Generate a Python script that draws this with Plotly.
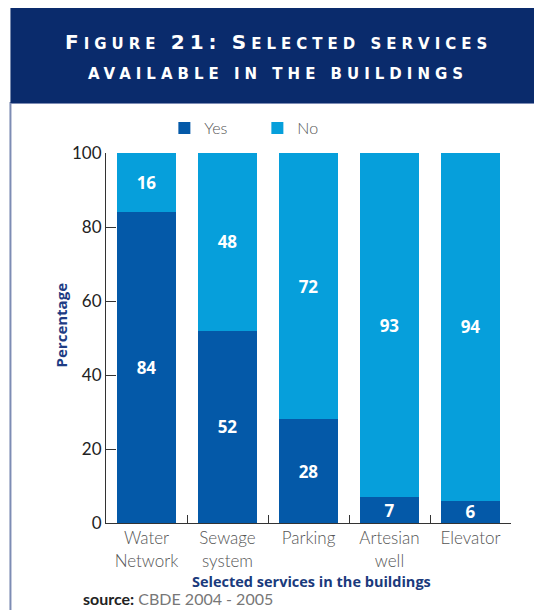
import plotly.graph_objects as go

categories = ["Water<br>Network", "Sewage<br>system", "Parking", "Artesian<br>well", "Elevator"]
yes_values = [84, 52, 28, 7, 6]
no_values = [16, 48, 72, 93, 94]
y_ticks = [0, 20, 40, 60, 80, 100]

YES_C = "#0459a8"
NO_C = "#069fdb"
NAVY = "#0a2b6c"

OFF = 8  # page body margin
W, H = 542 - OFF, 610 - OFF
# plot area in reference (window) pixels
X0, X1, Y0, Y1 = 105.6, 510.8, 153, 523
L, R, T, B = X0 - OFF, W - (X1 - OFF), Y0 - OFF, H - (Y1 - OFF)
PW = X1 - X0
PH = Y1 - Y0

def px(x):
    return (x - X0) / PW

def py(y):
    return (Y1 - y) / PH

fig = go.Figure()
for name, vals, col in [("Yes", yes_values, YES_C), ("No", no_values, NO_C)]:
    fig.add_trace(go.Bar(
        name=name, x=categories, y=vals, marker=dict(color=col, line=dict(width=0)),
        text=[str(v) for v in vals], textposition="inside", insidetextanchor="middle",
        textangle=0, constraintext="none",
        textfont=dict(family="Open Sans", size=17, color="white", weight="bold"),
    ))

thin = "Lato"

fig.update_layout(
    width=W, height=H,
    margin=dict(l=L, r=R, t=T, b=B, autoexpand=False),
    barmode="stack", bargap=0.27,
    paper_bgcolor="white", plot_bgcolor="white",
    uniformtext=dict(minsize=17, mode="show"),
    showlegend=True,
    legend=dict(orientation="h", x=px(164), xanchor="left", y=py(128), yanchor="middle",
                font=dict(family=thin, size=16, color="#555555", weight=300),
                entrywidth=48, bgcolor="rgba(0,0,0,0)", traceorder="normal"),
    xaxis=dict(
        showline=True, linecolor="#333333", linewidth=1,
        ticks="inside", tickson="boundaries", ticklen=8, tickcolor="#333333",
        tickfont=dict(family=thin, size=17, color="#555555", weight=300),
        showgrid=False, zeroline=False,
    ),
    yaxis=dict(
        range=[0, 100], tickvals=y_ticks,
        showline=True, linecolor="#333333", linewidth=1,
        ticks="inside", ticklen=10, tickcolor="#333333",
        tickfont=dict(family="Lato", size=17, color="#222222"),
        showgrid=False, zeroline=False,
    ),
)

shapes = [
    dict(type="rect", xref="paper", yref="paper", x0=px(10), x1=px(539), y0=py(640), y1=py(103),
         line=dict(color="#7d8cb4", width=2), fillcolor="rgba(0,0,0,0)", layer="below"),
    dict(type="rect", xref="paper", yref="paper", x0=px(10), x1=px(560), y0=py(103), y1=py(5),
         line=dict(width=0), fillcolor=NAVY, layer="above"),
]
fig.update_layout(shapes=shapes)

big = "<span style='font-size:20px'>"
title1 = ("<span style='letter-spacing:5px'>" + big + "F</span>IGURE " + big + "21:</span> "
          + big + "S</span>ELECTED SERVICES</span>")
title2 = "<span style='letter-spacing:5px'>AVAILABLE IN THE BUILDINGS</span>"

annotations = [
    dict(text=title1, x=px(278), y=py(42), xref="paper", yref="paper", showarrow=False,
         xanchor="center", yanchor="middle",
         font=dict(family="DejaVu Sans", size=15, color="white", weight="bold")),
    dict(text=title2, x=px(278), y=py(74), xref="paper", yref="paper", showarrow=False,
         xanchor="center", yanchor="middle",
         font=dict(family="DejaVu Sans", size=15, color="white", weight="bold")),
    dict(text="Percentage", x=px(61), y=py(325), xref="paper", yref="paper", showarrow=False,
         textangle=-90, xanchor="center", yanchor="middle",
         font=dict(family="Open Sans", size=15, color="#1e3c84", weight="bold")),
    dict(text="Selected services in the buildings", x=px(311), y=py(581), xref="paper", yref="paper",
         showarrow=False, xanchor="center", yanchor="middle",
         font=dict(family="Open Sans", size=14.5, color="#1a3a7c", weight="bold")),
    dict(text="<b>source:</b> <span style='color:#777777'>CBDE 2004 - 2005</span>",
         x=px(81), y=py(610), xref="paper", yref="paper", showarrow=False,
         xanchor="left", yanchor="bottom",
         font=dict(family="Lato", size=16, color="#222222")),
]
fig.update_layout(annotations=annotations)

fig.write_html("out.html")
